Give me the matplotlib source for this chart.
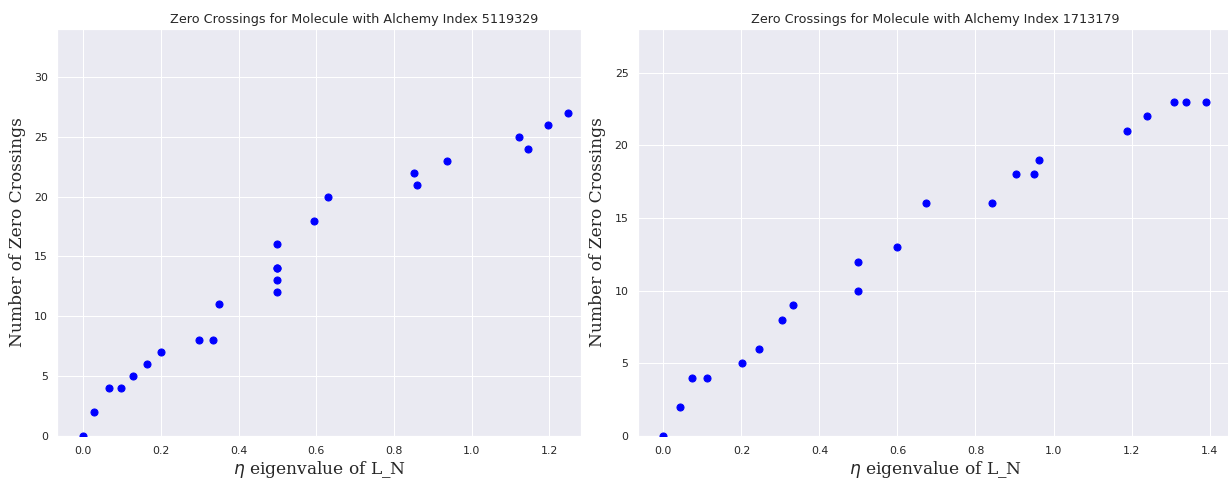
import matplotlib
matplotlib.use("Agg")
import matplotlib.pyplot as plt
import seaborn as sns

sns.set_theme(style="darkgrid")

# Left molecule (Alchemy index 5119329)
eta_a = [0.0, 0.028, 0.066, 0.097, 0.129, 0.163, 0.201, 0.297, 0.333, 0.349,
         0.5, 0.5, 0.5, 0.5, 0.5, 0.595, 0.630, 0.853, 0.859, 0.936,
         1.123, 1.146, 1.196, 1.248]
zc_a = [0, 2, 4, 4, 5, 6, 7, 8, 8, 11,
        12, 13, 14, 14, 16, 18, 20, 22, 21, 23,
        25, 24, 26, 27]

# Right molecule (Alchemy index 1713179)
eta_b = [0.0, 0.042, 0.073, 0.111, 0.201, 0.245, 0.303, 0.333, 0.5, 0.5,
         0.599, 0.672, 0.843, 0.905, 0.950, 0.964, 1.189, 1.240, 1.309,
         1.339, 1.391]
zc_b = [0, 2, 4, 4, 5, 6, 8, 9, 10, 12,
        13, 16, 16, 18, 18, 19, 21, 22, 23, 23, 23]

titles = ["Zero Crossings for Molecule with Alchemy Index 5119329",
          "Zero Crossings for Molecule with Alchemy Index 1713179"]

W, H = 1228, 483
fig = plt.figure(figsize=(W / 72, H / 72), dpi=72)

ax1 = fig.add_axes([57.4 / W, 1 - 436 / H, (581 - 57.4) / W, (436 - 29) / H])
ax2 = fig.add_axes([638 / W, 1 - 436 / H, (1233 - 638) / W, (436 - 29) / H])

for ax, x, y, t, ylim, xlim, tx in [
    (ax1, eta_a, zc_a, titles[0], (0, 34), (-0.067, 1.282), 0.566),
    (ax2, eta_b, zc_b, titles[1], (0, 28), (-0.065, 1.46), 0.5),
]:
    ax.scatter(x, y, color="blue", s=50, zorder=3)
    ax.set_title(t, fontsize=12.8, x=tx)
    ax.set_xlabel(r"$\eta$ eigenvalue of L_N", family="serif", fontsize=17)
    ax.set_ylabel("Number of Zero Crossings", family="serif", fontsize=17,
                  labelpad=8)
    ax.set_ylim(*ylim)
    ax.set_xlim(*xlim)
    ax.tick_params(labelsize=11)

ax1.set_xticks([0.0, 0.2, 0.4, 0.6, 0.8, 1.0, 1.2])
ax1.set_yticks([0, 5, 10, 15, 20, 25, 30])
ax2.set_xticks([0.0, 0.2, 0.4, 0.6, 0.8, 1.0, 1.2, 1.4])
ax2.set_yticks([0, 5, 10, 15, 20, 25])

fig.savefig("out.png", dpi=72)
